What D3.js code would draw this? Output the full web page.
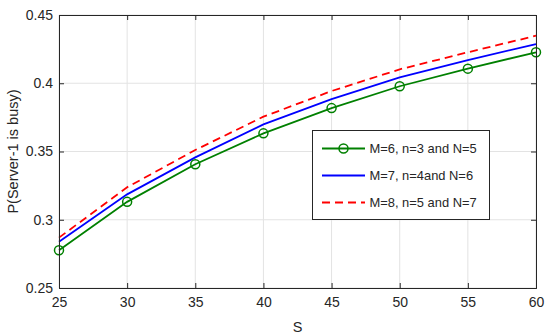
<!DOCTYPE html>
<html>
<head>
<meta charset="utf-8">
<script src="https://cdn.jsdelivr.net/npm/d3@7"></script>
<style>
  body { margin: 0; background: #fff; }
  svg text { font-family: "Liberation Sans", Arial, sans-serif; fill: #262626; }
</style>
</head>
<body>
<svg id="chart"></svg>
<script>
// data
const sValues = [25, 30, 35, 40, 45, 50, 55, 60];
const seriesNames = ["M=6, n=3 and N=5", "M=7, n=4and N=6", "M=8, n=5 and N=7"];
const greenVals = [0.2776, 0.3131, 0.3407, 0.3633, 0.3818, 0.3978, 0.4107, 0.4227];
const blueVals  = [0.2839, 0.3186, 0.3457, 0.3699, 0.3884, 0.4043, 0.4170, 0.4287];
const redVals   = [0.2869, 0.3238, 0.3511, 0.3755, 0.3943, 0.4102, 0.4227, 0.4348];
const xTicks = [25, 30, 35, 40, 45, 50, 55, 60];
const yTicks = [0.25, 0.3, 0.35, 0.4, 0.45];

const width = 550, height = 335;
const margin = { top: 15, right: 14, bottom: 47, left: 59 };
const w = width - margin.left - margin.right;
const h = height - margin.top - margin.bottom;

const svg = d3.select('#chart').attr('width', width).attr('height', height);
const g = svg.append('g').attr('transform', `translate(${margin.left},${margin.top})`);

const x = d3.scaleLinear().domain([25, 60]).range([0, w]);
const y = d3.scaleLinear().domain([0.25, 0.45]).range([h, 0]);

// grid
g.append('g').selectAll('line').data(xTicks).join('line')
  .attr('x1', d => x(d)).attr('x2', d => x(d)).attr('y1', 0).attr('y2', h)
  .attr('stroke', '#e3e3e3').attr('stroke-width', 1);
g.append('g').selectAll('line').data(yTicks).join('line')
  .attr('y1', d => y(d)).attr('y2', d => y(d)).attr('x1', 0).attr('x2', w)
  .attr('stroke', '#e3e3e3').attr('stroke-width', 1);

const series = [
  { name: seriesNames[0], vals: greenVals, color: '#008000', dash: null, marker: true },
  { name: seriesNames[1], vals: blueVals, color: '#0000ff', dash: null, marker: false },
  { name: seriesNames[2], vals: redVals, color: '#ff0000', dash: '8,5', marker: false }
];

const line = d3.line().x(d => x(d[0])).y(d => y(d[1]));

// draw red first, then blue, then green on top
[2, 1, 0].forEach(i => {
  const s = series[i];
  const pts = sValues.map((v, j) => [v, s.vals[j]]);
  g.append('path')
    .datum(pts)
    .attr('fill', 'none')
    .attr('stroke', s.color)
    .attr('stroke-width', 1.8)
    .attr('stroke-dasharray', s.dash)
    .attr('d', line);
  if (s.marker) {
    g.append('g').selectAll('circle').data(pts).join('circle')
      .attr('cx', d => x(d[0])).attr('cy', d => y(d[1])).attr('r', 4.5)
      .attr('fill', 'none').attr('stroke', s.color).attr('stroke-width', 1.5);
  }
});

// axes, MATLAB-like box with inward ticks
const axisColor = '#262626';
const xAxis = d3.axisBottom(x).tickValues(xTicks).tickSize(-5).tickPadding(9).tickFormat(d3.format('d'));
const yAxis = d3.axisLeft(y).tickValues(yTicks).tickSize(-5).tickPadding(6).tickFormat(d => d === 0.3 ? '0.3' : d === 0.4 ? '0.4' : d3.format('.2f')(d));
const xAxisTop = d3.axisTop(x).tickValues(xTicks).tickSize(-5).tickFormat('');
const yAxisRight = d3.axisRight(y).tickValues(yTicks).tickSize(-5).tickFormat('');

function styleAxis(sel) {
  sel.select('.domain').attr('stroke', axisColor).attr('stroke-width', 1);
  sel.selectAll('.tick line').attr('stroke', axisColor);
  sel.selectAll('.tick text').attr('fill', axisColor).style('font-size', '14px')
    .style('font-family', '"Liberation Sans", Arial, sans-serif');
}

g.append('g').attr('transform', `translate(0,${h})`).call(xAxis).call(styleAxis);
g.append('g').call(yAxis).call(styleAxis);
g.append('g').call(xAxisTop).call(styleAxis);
g.append('g').attr('transform', `translate(${w},0)`).call(yAxisRight).call(styleAxis);

// axis labels
svg.append('text')
  .attr('x', margin.left + w / 2).attr('y', 332)
  .attr('text-anchor', 'middle').style('font-size', '14.5px')
  .text('S');
svg.append('text')
  .attr('transform', `translate(18,${margin.top + h / 2}) rotate(-90)`)
  .attr('text-anchor', 'middle').style('font-size', '14.5px')
  .text('P(Server-1 is busy)');

// legend
const lg = svg.append('g');
lg.append('rect')
  .attr('x', 312.5).attr('y', 130.5).attr('width', 177).attr('height', 89)
  .attr('fill', '#fff').attr('stroke', axisColor).attr('stroke-width', 1);
const rowY = [148.5, 175.5, 202.5];
series.forEach((s, i) => {
  lg.append('line')
    .attr('x1', 322).attr('x2', 365).attr('y1', rowY[i]).attr('y2', rowY[i])
    .attr('stroke', s.color).attr('stroke-width', 1.8)
    .attr('stroke-dasharray', s.dash);
  if (s.marker) {
    lg.append('circle').attr('cx', 343.5).attr('cy', rowY[i]).attr('r', 4.5)
      .attr('fill', 'none').attr('stroke', s.color).attr('stroke-width', 1.5);
  }
  lg.append('text')
    .attr('x', 369.5).attr('y', rowY[i] + 4.5)
    .style('font-size', '12.9px')
    .text(s.name);
});
</script>
</body>
</html>
